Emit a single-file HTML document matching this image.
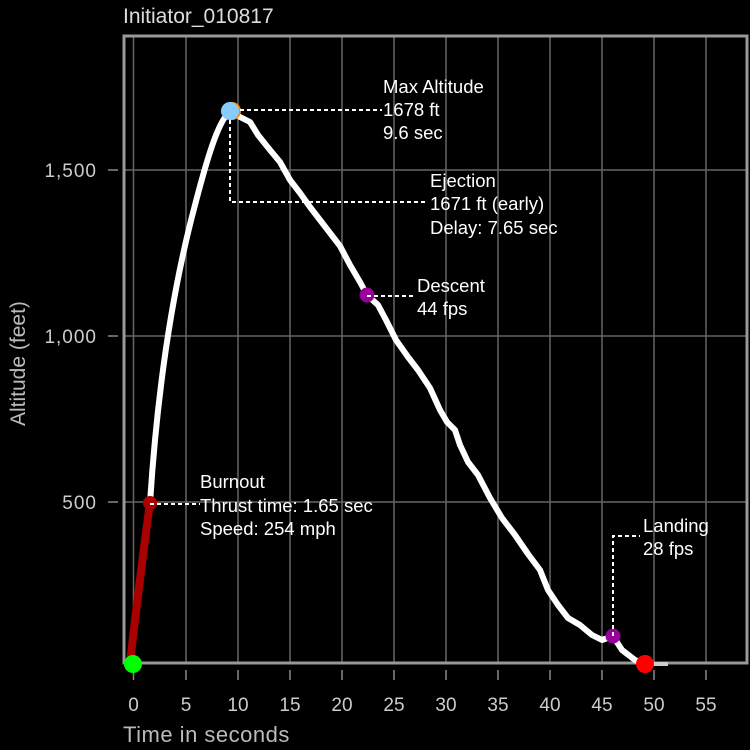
<!DOCTYPE html>
<html><head><style>body{margin:0;background:#000}svg{display:block}</style></head><body>
<svg width="750" height="750" xmlns="http://www.w3.org/2000/svg" font-family="Liberation Sans, sans-serif">
<rect width="750" height="750" fill="#000"/>
<text x="123" y="23" fill="#ddd" font-size="21">Initiator_010817</text>
<g stroke="#666" stroke-width="1.5">
<line x1="133.5" y1="35" x2="133.5" y2="663"/><line x1="186" y1="35" x2="186" y2="663"/><line x1="238" y1="35" x2="238" y2="663"/><line x1="290" y1="35" x2="290" y2="663"/><line x1="342" y1="35" x2="342" y2="663"/><line x1="394" y1="35" x2="394" y2="663"/><line x1="446" y1="35" x2="446" y2="663"/><line x1="498" y1="35" x2="498" y2="663"/><line x1="550" y1="35" x2="550" y2="663"/><line x1="602" y1="35" x2="602" y2="663"/><line x1="654" y1="35" x2="654" y2="663"/><line x1="706" y1="35" x2="706" y2="663"/>
<line x1="124" y1="170" x2="748" y2="170"/><line x1="124" y1="336" x2="748" y2="336"/><line x1="124" y1="502" x2="748" y2="502"/>
</g>
<g stroke="#888" stroke-width="1.5">
<line x1="133.5" y1="670" x2="133.5" y2="680"/><line x1="186" y1="670" x2="186" y2="680"/><line x1="238" y1="670" x2="238" y2="680"/><line x1="290" y1="670" x2="290" y2="680"/><line x1="342" y1="670" x2="342" y2="680"/><line x1="394" y1="670" x2="394" y2="680"/><line x1="446" y1="670" x2="446" y2="680"/><line x1="498" y1="670" x2="498" y2="680"/><line x1="550" y1="670" x2="550" y2="680"/><line x1="602" y1="670" x2="602" y2="680"/><line x1="654" y1="670" x2="654" y2="680"/><line x1="706" y1="670" x2="706" y2="680"/>
<line x1="108" y1="170" x2="118" y2="170"/><line x1="108" y1="336" x2="118" y2="336"/><line x1="108" y1="502" x2="118" y2="502"/>
</g>
<rect x="124" y="36" width="623" height="627" fill="none" stroke="#999" stroke-width="3"/>
<g fill="#ccc" font-size="19" text-anchor="middle">
<text x="133.5" y="711">0</text><text x="186" y="711">5</text><text x="238" y="711">10</text><text x="290" y="711">15</text><text x="342" y="711">20</text><text x="394" y="711">25</text><text x="446" y="711">30</text><text x="498" y="711">35</text><text x="550" y="711">40</text><text x="602" y="711">45</text><text x="654" y="711">50</text><text x="706" y="711">55</text>
</g>
<g fill="#ccc" font-size="19" text-anchor="end" letter-spacing="1">
<text x="97" y="177">1,500</text><text x="97" y="343">1,000</text><text x="97" y="509">500</text>
</g>
<text x="123" y="742" fill="#bbb" font-size="22" letter-spacing="0.5">Time in seconds</text>
<text transform="translate(25,426) rotate(-90)" fill="#bbb" font-size="21">Altitude (feet)</text>
<polyline fill="none" stroke="#ccc" stroke-width="4" points="645,664 668,664"/>
<path fill="none" stroke="#fff" stroke-width="6" stroke-linejoin="round" d="M150,503 C158,380 175,280 195,205 C208,155 220,115 232,111"/>
<polyline fill="none" stroke="#fff" stroke-width="6" stroke-linejoin="round" points="232,111 240,117 250,122 258,135 270,150 280,162 290,180 300,193 310,207 320,220 330,233 340,246 350,265 360,282 367,295 378,305 386,320 396,340 408,357 418,370 430,388 440,410 447,422 455,430 460,445 468,462 478,475 490,498 502,518 515,535 528,554 540,570 548,590 558,605 568,618 580,625 592,635 602,640 613,636 622,650 635,660 645,664"/>
<path d="M130,663 C135,620 142,560 150,503" fill="none" stroke="#a00" stroke-width="8" stroke-linecap="round"/>
<circle cx="133" cy="664" r="9" fill="#0f0"/>
<circle cx="645" cy="664" r="9" fill="#f00"/>
<circle cx="150" cy="503" r="7" fill="#a00"/>
<circle cx="232" cy="111" r="9" fill="#f80"/>
<circle cx="230" cy="111" r="9" fill="#8cf"/>
<circle cx="367" cy="295" r="7.5" fill="#909"/>
<circle cx="613" cy="636" r="7.5" fill="#909"/>
<g stroke="#fff" stroke-width="2" stroke-dasharray="4,3" fill="none">
<polyline points="240,110 382,110"/>
<polyline points="230,120 230,202 428,202"/>
<polyline points="367,296 416,296"/>
<polyline points="613,636 613,536 640,536"/>
<polyline points="150,504 200,504"/>
</g>
<g fill="#fff" font-size="18.5">
<text x="383" y="93">Max Altitude</text><text x="383" y="116">1678 ft</text><text x="383" y="139">9.6  sec</text>
<text x="430" y="187">Ejection</text><text x="430" y="210">1671 ft (early)</text><text x="430" y="234">Delay:  7.65 sec</text>
<text x="417" y="292">Descent</text><text x="417" y="315">44 fps</text>
<text x="200" y="488">Burnout</text><text x="200" y="512">Thrust time: 1.65 sec</text><text x="200" y="535">Speed: 254 mph</text>
<text x="643" y="532">Landing</text><text x="643" y="555">28 fps</text>
</g>
</svg>
</body></html>
